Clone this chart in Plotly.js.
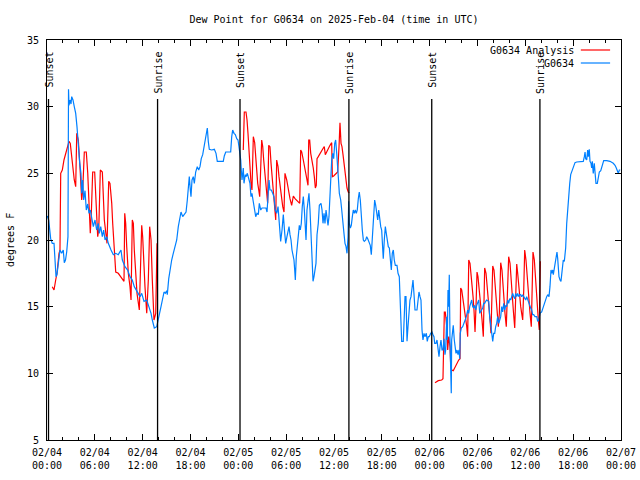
<!DOCTYPE html>
<html><head><meta charset="utf-8">
<script src="https://cdn.plot.ly/plotly-3.0.1.min.js"></script>
<style>html,body{margin:0;padding:0;background:#fff}#chart{width:640px;height:480px}</style>
</head><body><div id="chart"></div>
<script>
// Hours since 2025-02-04 00:00 UTC, and dew point (degrees F)
const obsHours = [
0.04,0.21,0.46,0.66,0.88,1.00,1.13,1.25,1.42,1.63,1.84,2.04,2.17,2.32,2.47,2.57,2.63,2.70,2.76,2.89,
3.01,3.10,3.26,3.42,3.60,3.76,3.93,4.10,4.26,4.35,4.48,4.60,4.77,4.93,5.11,5.27,5.43,5.61,5.81,6.02,
6.23,6.43,6.56,6.74,6.94,7.11,7.28,7.49,7.69,8.03,8.32,8.62,8.94,9.28,9.45,9.78,10.12,10.41,10.70,10.95,
11.38,11.67,11.88,12.17,12.51,12.79,13.05,13.21,13.46,13.76,13.96,14.30,14.68,
14.84,15.01,15.09,15.27,15.43,15.64,15.84,16.06,16.27,16.47,
16.68,16.81,17.02,17.18,17.44,17.60,17.72,17.85,17.98,18.06,
18.19,18.35,18.48,18.65,18.85,19.03,19.19,19.35,19.53,19.69,
19.82,19.94,20.11,20.23,20.36,20.66,20.99,21.20,21.36,21.70,
22.11,22.24,22.42,22.74,23.04,23.17,23.29,23.46,23.62,23.80,
23.96,24.08,24.21,24.30,24.37,24.46,24.62,24.71,24.87,24.96,
25.13,25.30,25.46,25.59,25.71,25.84,26.00,26.18,26.34,26.51,
26.63,26.81,26.97,27.22,27.47,27.60,27.72,27.85,27.97,28.14,
28.31,28.47,28.64,28.81,28.98,29.10,29.23,29.31,29.48,29.64,
29.82,29.94,
30.10,30.23,30.36,30.48,30.61,30.73,30.86,30.98,31.07,31.15,
31.27,31.40,31.52,31.65,31.77,31.90,32.02,32.15,32.28,32.40,
32.49,32.61,32.74,32.86,32.99,33.12,33.24,33.37,33.49,33.62,
33.74,33.87,34.03,34.16,34.37,34.50,34.62,34.75,34.87,35.00,
35.12,35.25,35.37,35.50,35.59,35.71,35.84,35.96,36.09,36.21,
36.34,36.46,36.54,36.67,36.84,36.97,37.13,37.25,37.38,37.51,
37.63,37.76,37.84,37.92,38.05,38.17,38.30,38.42,38.55,38.67,
38.80,38.92,39.05,39.17,39.30,39.42,39.55,39.68,39.80,39.98,
40.10,40.23,40.39,40.55,40.68,40.77,40.85,40.98,41.10,41.23,
41.36,41.48,41.61,41.73,41.86,41.98,42.06,42.18,42.31,42.44,
42.56,42.69,42.81,42.94,43.06,43.19,43.31,43.44,43.56,43.69,
43.90,44.03,44.19,44.28,44.40,44.49,44.69,44.78,44.91,45.03,
45.16,45.28,45.41,45.53,45.66,45.78,45.91,46.04,46.16,46.41,
46.54,46.66,46.79,46.91,47.04,47.16,47.29,47.41,47.58,47.70,
47.83,47.95,48.13,48.29,48.42,48.54,48.63,
48.79,48.92,49.05,49.17,49.30,49.42,49.55,49.67,49.80,49.92,
50.01,50.14,50.21,50.30,50.39,50.46,50.55,50.64,50.71,50.76,
50.84,50.96,51.09,51.18,51.30,51.43,51.55,51.68,51.77,51.84,
51.97,52.14,52.31,52.43,52.60,52.77,52.90,53.02,53.15,53.27,
53.40,53.52,53.65,53.77,53.90,54.03,54.15,54.28,54.40,54.53,
54.65,54.78,54.90,55.03,55.15,55.28,55.41,55.53,55.66,55.78,
55.91,56.03,56.16,56.28,56.41,56.53,56.66,56.79,56.91,57.04,
57.16,57.29,57.41,57.54,57.66,57.79,57.91,58.04,58.17,58.29,
58.42,58.54,58.67,58.79,58.92,59.04,59.17,59.29,59.42,59.54,
59.67,59.80,59.92,60.05,60.17,60.30,60.42,60.55,60.67,60.80,
60.92,61.05,61.21,61.43,61.55,61.68,61.84,62.05,62.25,62.47,
62.68,62.81,62.97,63.09,63.22,63.31,63.43,63.51,63.64,63.76,
63.89,63.97,64.06,64.14,64.22,64.35,64.47,64.56,64.69,64.76,
64.89,65.06,65.19,65.31,65.44,65.57,65.69,65.82,65.94,66.11,
66.23,66.44,66.86,67.27,67.40,67.49,67.57,67.70,67.82,67.90,
68.02,68.11,68.24,68.32,68.40,68.52,68.65,68.78,68.86,69.03,
69.15,69.28,69.46,69.58,69.71,69.83,70.21,70.62,71.03,71.25,
71.41,71.54,71.66,71.79,71.91];
const obsDewF = [
21.8,21.5,20.1,19.75,19.75,18.8,17.25,17.4,18.5,19.25,19.0,19.25,18.3,18.5,19.1,19.6,20.25,31.3,30.1,30.5,
30.2,30.75,30.5,30.0,29.5,28.5,27.0,25.8,25.0,23.5,24.5,23.0,23.7,22.25,22.7,22.0,22.25,21.5,21.0,21.5,
20.75,21.25,20.5,21.0,20.25,20.75,20.0,20.25,19.75,19.25,18.9,19.0,18.9,19.25,18.5,18.0,17.75,17.25,17.0,16.5,
16.0,15.75,16.0,15.4,15.5,15.0,14.5,14.0,13.4,13.5,14.0,15.0,16.1,
16.0,16.2,15.9,17.1,17.75,18.5,19.0,19.6,20.0,21.0,
21.9,22.1,21.75,21.9,22.1,23.0,23.75,24.75,23.75,23.25,
24.5,24.75,24.25,25.1,25.5,25.25,25.5,26.1,26.4,27.0,
27.5,28.1,28.4,27.4,26.8,26.75,26.8,26.5,25.9,25.9,
25.9,26.3,26.6,26.6,26.6,27.75,28.25,28.0,27.9,27.6,
27.5,27.0,26.5,26.0,25.25,24.5,25.4,24.25,24.9,24.75,
25.0,24.6,24.25,23.25,23.5,23.0,22.25,21.75,22.0,21.9,
22.75,22.25,22.4,22.4,22.4,22.1,23.0,24.5,23.75,23.75,
23.5,23.25,22.25,22.0,22.5,21.5,20.5,19.9,20.75,21.9,
20.5,19.75,
20.25,20.75,21.0,20.4,20.0,19.25,18.75,18.5,17.75,17.0,
18.75,19.5,20.5,21.1,20.75,21.25,22.5,23.25,22.25,21.25,
20.0,22.25,23.0,23.5,22.25,20.0,18.5,16.9,17.25,17.75,
18.25,20.4,21.25,22.6,22.75,22.25,21.25,22.0,21.25,22.25,
21.5,21.1,21.75,23.25,24.75,26.0,26.5,26.1,27.25,27.5,
26.5,25.75,24.75,23.5,23.0,22.25,21.5,20.5,19.75,19.5,
19.0,20.25,22.9,21.25,20.9,21.1,21.75,22.25,22.0,22.25,
22.0,22.25,23.1,23.6,23.0,21.5,20.75,20.0,19.9,20.0,
20.25,20.1,19.9,19.6,18.9,19.75,21.25,22.5,23.0,22.6,
22.0,21.5,22.25,21.5,21.0,20.75,19.25,18.6,20.0,21.0,
20.5,19.75,19.5,19.4,18.75,17.75,19.0,19.25,18.5,18.1,
18.1,17.5,17.25,16.0,13.5,12.4,12.4,13.5,15.75,15.75,
12.4,13.5,14.75,15.5,15.75,16.5,17.0,15.9,14.75,14.75,
15.5,16.1,15.75,15.5,13.25,12.5,13.0,12.75,13.0,12.4,
12.75,12.75,13.0,13.1,12.9,12.75,12.25,
12.25,12.5,12.0,11.25,12.0,12.5,11.75,11.75,12.6,11.4,
11.75,14.25,12.5,16.25,15.0,17.4,12.5,10.75,8.5,12.5,
13.25,13.6,12.5,12.0,11.5,11.75,11.4,11.75,11.1,13.0,
13.4,13.5,13.75,14.0,14.25,14.75,14.5,15.0,15.4,15.5,
15.0,14.9,15.1,14.75,15.1,15.25,15.5,14.5,14.6,14.75,
14.9,15.25,15.25,15.4,15.5,15.45,15.4,14.25,13.5,13.0,
12.4,13.0,13.0,13.5,13.75,14.25,13.75,14.0,14.25,15.0,
14.6,15.25,14.75,15.1,15.0,15.5,15.25,15.6,15.5,15.75,
16.0,15.75,15.6,16.0,15.75,16.0,15.75,15.9,15.9,15.75,
15.9,15.75,15.6,15.5,15.75,15.5,15.25,15.0,14.9,14.75,
14.4,14.4,14.25,14.25,13.9,14.0,14.5,14.6,15.0,15.4,
15.75,15.9,15.75,16.5,17.75,17.5,17.75,17.4,18.0,18.4,
18.9,19.1,18.6,17.5,17.25,17.0,16.9,17.4,18.0,18.5,
18.4,19.4,21.25,22.5,23.5,24.25,24.9,25.1,25.4,25.6,
25.8,25.85,25.85,25.9,26.25,26.6,26.1,26.0,26.75,26.25,
26.8,25.9,25.75,25.4,25.9,25.0,25.75,25.0,24.25,24.25,
24.9,25.1,25.2,25.5,25.75,25.95,25.95,25.9,25.75,25.6,
25.4,25.1,25.0,25.25,25.25];

// Analysis series: three runs with gaps between them
const anaHours1 = [
0.66,0.88,1.09,1.25,1.51,1.63,1.72,1.92,2.13,2.35,
2.51,2.76,2.92,3.10,3.26,3.42,3.60,3.73,3.93,4.05,
4.18,4.35,4.48,4.68,4.93,5.11,5.23,5.43,5.56,5.73,
5.98,6.11,6.23,6.36,6.49,6.69,6.94,7.06,7.19,7.53,
7.61,7.74,7.90,8.12,8.24,8.44,8.62,8.94,9.28,9.53,
9.66,9.75,9.87,10.00,10.20,10.41,10.54,10.70,10.83,10.95,
11.13,11.29,11.58,11.70,11.88,12.00,12.13,12.29,12.51,12.71,
12.88,13.05,13.21,13.42,13.64,13.80];
const anaDewF1 = [
16.5,16.25,17.0,17.5,19.0,19.25,25.0,25.25,26.0,26.5,
27.0,27.4,27.25,26.25,25.0,24.5,24.0,28.0,27.5,26.5,
25.0,23.0,23.75,26.6,26.6,25.0,23.0,20.5,22.0,25.1,
25.1,23.75,22.0,20.25,20.75,25.25,25.1,23.5,21.5,19.75,
22.0,24.4,24.25,22.75,21.25,19.0,17.6,17.5,17.25,17.0,
16.9,22.0,21.25,19.5,17.5,16.5,15.5,21.5,21.25,19.25,
17.5,16.0,14.75,17.0,21.1,20.25,18.0,16.5,14.5,17.0,
21.0,20.0,17.0,14.0,14.5,19.75];
const anaHours2 = [
24.62,24.75,24.96,25.09,25.21,25.34,25.46,25.59,25.71,25.88,
26.05,26.18,26.30,26.43,26.56,26.68,26.93,27.06,27.18,27.31,
27.43,27.56,27.68,27.81,27.97,28.10,28.22,28.39,28.56,28.69,
28.81,28.98,29.10,29.23,29.39,29.57,29.73,29.85,30.07,30.27,
30.48,30.69,30.90,31.11,31.32,31.52,31.70,31.82,31.95,32.15,
32.36,32.58,32.74,32.83,32.95,33.08,33.24,33.40,33.53,33.66,
33.78,33.87,34.03,34.24,34.46,34.66,34.78,34.91,35.08,35.29,
35.50,35.71,35.79,35.96,36.13,36.34,36.46,36.63,36.75,36.88,
37.00,37.13,37.25,37.38,37.51,37.63,37.79,37.92];
const anaDewF2 = [
26.75,29.6,29.6,29.0,28.0,26.5,25.25,24.25,23.75,27.75,
27.3,26.0,25.0,24.25,23.75,23.25,27.5,27.0,26.0,25.0,
24.25,23.5,22.75,27.1,27.0,25.75,24.75,24.0,22.5,21.5,
26.0,25.5,24.75,24.1,23.25,22.5,22.1,25.0,24.5,23.75,
23.1,22.6,23.3,23.1,23.0,22.9,22.75,26.75,26.6,26.0,
25.25,24.5,24.1,27.5,27.5,26.5,26.0,25.4,24.75,23.9,
24.1,26.1,26.25,26.5,26.75,26.9,27.0,26.4,26.6,26.9,
27.1,27.3,24.75,24.8,24.9,25.0,25.1,27.0,28.8,27.25,
27.0,26.4,25.75,25.1,24.5,23.9,23.6,23.55];
const anaHours3 = [
48.67,49.08,49.51,49.67,49.84,49.96,50.14,50.26,50.39,50.55,
50.64,50.76,50.96,51.18,51.39,51.64,51.81,51.89,52.02,52.14,
52.27,52.39,52.52,52.65,52.77,52.90,53.06,53.19,53.31,53.44,
53.56,53.69,53.81,53.94,54.06,54.19,54.31,54.44,54.57,54.73,
54.90,55.07,55.19,55.32,55.44,55.57,55.69,55.82,55.91,56.07,
56.20,56.32,56.45,56.61,56.74,56.91,57.07,57.20,57.32,57.45,
57.61,57.74,57.91,58.08,58.20,58.33,58.49,58.67,58.79,58.92,
59.04,59.17,59.29,59.42,59.54,59.67,59.80,59.92,60.08,60.21,
60.34,60.46,60.59,60.75,60.88,60.96,61.13,61.25,61.38,61.50,
61.63,61.75,61.88];
const anaDewF3 = [
9.3,9.45,9.5,9.6,14.6,14.6,13.5,11.75,12.75,12.0,
10.6,10.25,10.2,10.5,10.75,11.0,11.1,16.4,16.25,15.75,
15.25,14.5,14.0,13.5,12.75,18.5,18.25,17.5,16.75,15.75,
14.75,13.1,15.0,17.6,17.25,16.5,15.75,15.0,14.0,12.75,
17.9,17.5,16.75,15.75,15.0,14.0,13.0,15.5,18.05,17.75,
16.75,15.75,14.75,13.5,14.5,18.3,17.75,16.5,15.5,14.5,
13.5,16.25,18.75,18.25,17.0,15.75,14.75,13.4,16.0,18.2,
17.5,16.5,15.75,15.0,14.5,14.0,16.25,19.25,18.5,17.25,
16.25,15.25,14.5,13.5,16.5,19.1,18.5,17.25,16.0,14.75,
14.0,13.25,18.4];

const sunHours = [0.19, 13.87, 24.21, 37.87, 48.26, 61.83];
const sunLabels = ['Sunset','Sunrise','Sunset','Sunrise','Sunset','Sunrise'];
const seriesNames = ['G0634 Analysis', 'G0634'];
const seriesColors = ['#ff0000', '#0080ff'];

const base = Date.UTC(2025, 1, 4);
function toTime(h) {
  if (h === null) return null;
  return new Date(base + Math.round(h * 3600000)).toISOString().slice(0, 19).replace('T', ' ');
}
const anaHours = anaHours1.concat([null], anaHours2, [null], anaHours3);
const anaDewF = anaDewF1.concat([null], anaDewF2, [null], anaDewF3);

const FONT = {family: 'DejaVu Sans Mono, monospace', size: 10, color: '#000'};

const traces = [
  {type: 'scatter', mode: 'lines', name: seriesNames[0], x: anaHours.map(toTime), y: anaDewF,
   connectgaps: false, line: {color: seriesColors[0], width: 1.2}, hoverinfo: 'skip'},
  {type: 'scatter', mode: 'lines', name: seriesNames[1], x: obsHours.map(toTime), y: obsDewF,
   line: {color: seriesColors[1], width: 1.2}, hoverinfo: 'skip'}
];

const shapes = [];
const annotations = [];
sunHours.forEach((h, i) => {
  shapes.push({type: 'line', xref: 'x', yref: 'paper', x0: toTime(h), x1: toTime(h), y0: 0, y1: 0.8525,
               line: {color: '#000', width: 1.3}, layer: 'above'});
  annotations.push({xref: 'x', yref: 'paper', x: toTime(h), y: 0.975, text: sunLabels[i], showarrow: false,
                    textangle: -90, xanchor: 'center', yanchor: 'top', font: FONT});
});
// legend (text right-aligned, line sample to the right)
const legY = [0.975, 0.9425];
seriesNames.forEach((n, i) => {
  annotations.push({xref: 'paper', yref: 'paper', x: 0.921, y: legY[i], text: n, showarrow: false,
                    xanchor: 'right', yanchor: 'middle', font: FONT});
  shapes.push({type: 'line', xref: 'paper', yref: 'paper', x0: 0.930, x1: 0.981, y0: legY[i], y1: legY[i],
               line: {color: seriesColors[i], width: 1.2}});
});
annotations.push({xref: 'paper', yref: 'paper', x: 0, y: 0.5, xshift: -37, text: 'degrees F', showarrow: false,
                  textangle: -90, xanchor: 'center', yanchor: 'middle', font: FONT});

const layout = {
  width: 640, height: 480,
  margin: {l: 47, r: 19, t: 40, b: 40},
  paper_bgcolor: '#fff', plot_bgcolor: '#fff',
  font: FONT, showlegend: false,
  title: {text: 'Dew Point for G0634 on 2025-Feb-04 (time in UTC)', font: FONT,
          x: 0.5, xref: 'paper', xanchor: 'center', y: 1 - 19 / 480, yref: 'container', yanchor: 'middle'},
  xaxis: {type: 'date', range: [toTime(0), toTime(72)], tickmode: 'linear', tick0: toTime(0), dtick: 6 * 3600000,
          tickformat: '%m/%d<br>%H:%M', ticks: 'inside', ticklen: 6, tickcolor: '#000', tickwidth: 1,
          showline: true, linecolor: '#000', linewidth: 1, mirror: 'ticks', showgrid: false, zeroline: false,
          minor: {tick0: toTime(0), dtick: 2 * 3600000, ticks: 'inside', ticklen: 3, tickcolor: '#000', showgrid: false},
          tickfont: FONT, ticklabelstandoff: 3, fixedrange: true},
  yaxis: {range: [5, 35], tick0: 5, dtick: 5, ticks: 'inside', ticklen: 6, tickcolor: '#000', tickwidth: 1,
          showline: true, linecolor: '#000', linewidth: 1, mirror: 'ticks', showgrid: false, zeroline: false,
          tickfont: FONT, ticklabelstandoff: 5, fixedrange: true},
  shapes: shapes,
  annotations: annotations
};

Plotly.newPlot('chart', traces, layout, {displayModeBar: false, staticPlot: true});
</script>
</body></html>
